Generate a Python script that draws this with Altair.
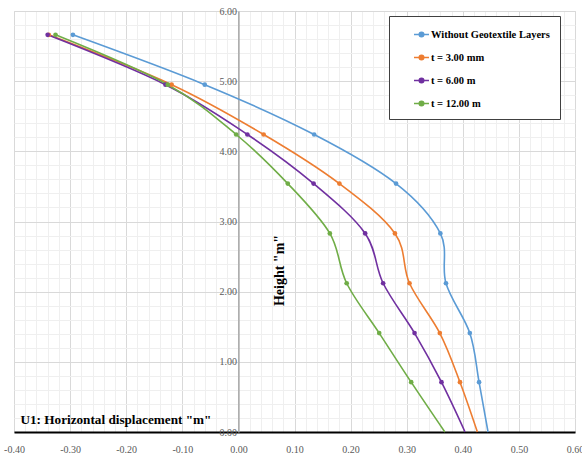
import altair as alt
import pandas as pd

# ---- data ----
series = ["Without Geotextile Layers", "t = 3.00 mm", "t = 6.00 m", "t = 12.00 m"]
colors = ["#5b9bd5", "#ed7d31", "#7030a0", "#70ad47"]
heights = [5.66, 4.95, 4.24, 3.54, 2.83, 2.12, 1.41, 0.71, 0.00]
u_without = [-0.295, -0.060, 0.135, 0.281, 0.360, 0.370, 0.4125, 0.429, 0.445]
u_t3 = [-0.338, -0.119, 0.045, 0.180, 0.279, 0.305, 0.359, 0.395, 0.426]
u_t6 = [-0.340, -0.130, 0.016, 0.134, 0.226, 0.258, 0.314, 0.362, 0.404]
u_t12 = [-0.326, -0.126, -0.004, 0.088, 0.163, 0.193, 0.251, 0.308, 0.368]

# axis ticks (major every 0.1 / 1.0, minor grid every 0.02 / 0.2)
x_ticks = [round(-0.4 + 0.02 * i, 2) for i in range(51)]
y_ticks = [round(0.2 * i, 1) for i in range(31)]

rows = []
for name, vals in zip(series, [u_without, u_t3, u_t6, u_t12]):
    for i, (u, h) in enumerate(zip(vals, heights)):
        rows.append({"series": name, "u": u, "h": h, "idx": i})
df = pd.DataFrame(rows)

W, H = 561, 421
xs = alt.Scale(domain=[-0.4, 0.6], nice=False, zero=False)
ys = alt.Scale(domain=[0, 6], nice=False)
cs = alt.Scale(domain=series, range=colors)

serif = "Liberation Serif"
is_major_x = "abs(datum.value*10 - round(datum.value*10)) < 1e-6"
is_major_y = "abs(datum.value - round(datum.value)) < 1e-6"

x_axis = alt.Axis(
    values=x_ticks,
    labelExpr="(" + is_major_x + ") ? ((datum.value < -1e-9 ? '-' : '') + format(abs(datum.value), '.2f')) : ''",
    title='U1: Horizontal displacement "m"',
    titleFont=serif, titleFontSize=13.2, titleFontWeight="bold", titleColor="#000000",
    titleX=6, titleY=-9, titleAlign="left", titleBaseline="alphabetic", titleAngle=0,
    labelFont=serif, labelFontSize=10, labelColor="#595959", labelPadding=12,
    ticks=False, domainColor="#000000", domainWidth=2,
    grid=True, gridWidth=1, labelFlush=False, labelOverlap=False,
    gridColor={"condition": {"test": is_major_x, "value": "#d9d9d9"}, "value": "#efefef"},
)
y_axis = alt.Axis(
    values=y_ticks,
    labelExpr="(" + is_major_y + ") ? format(datum.value, '.2f') : ''",
    title='Height "m"', offset=-224.4,
    titleFont=serif, titleFontSize=14, titleFontWeight="bold", titleColor="#000000",
    titleX=41, titleY=259, titleAngle=270, titleAlign="center", titleBaseline="middle",
    labelFont=serif, labelFontSize=10, labelColor="#595959", labelPadding=2,
    ticks=False, domainColor="#a6a6a6", domainWidth=1.5,
    grid=True, gridWidth=1, labelFlush=False, labelOverlap=False,
    gridColor={"condition": {"test": is_major_y, "value": "#d9d9d9"}, "value": "#efefef"},
)

legend = alt.Legend(
    title=None, orient="none", legendX=375, legendY=5,
    symbolType="M-1,0L1,0M0.3,0A0.3,0.3,0,1,1,-0.3,0A0.3,0.3,0,1,1,0.3,0Z",
    symbolSize=225, symbolStrokeWidth=1.6, symbolOffset=14,
    labelFont=serif, labelFontSize=10.5, labelFontWeight="bold", labelColor="#000000",
    labelOffset=1, rowPadding=9, padding=10,
    strokeColor="#404040", fillColor="#ffffff", cornerRadius=0, labelLimit=300,
)

lines = alt.Chart(df).mark_line(strokeWidth=1.6, interpolate="cardinal").encode(
    x=alt.X("u:Q", scale=xs, axis=x_axis),
    y=alt.Y("h:Q", scale=ys, axis=y_axis),
    color=alt.Color("series:N", scale=cs, sort=series, legend=legend),
    order=alt.Order("idx:Q"),
)
points = alt.Chart(df).transform_filter("datum.h > 0").mark_point(filled=True, size=22, opacity=1).encode(
    x=alt.X("u:Q", scale=xs, axis=x_axis),
    y=alt.Y("h:Q", scale=ys, axis=y_axis),
    color=alt.Color("series:N", scale=cs, sort=series, legend=None),
)

chart = alt.layer(lines, points).properties(
    width=W, height=H,
    autosize=alt.AutoSizeParams(type="none"),
    padding={"left": 14, "top": 11, "right": 7, "bottom": 21},
    background="#ffffff",
).configure_view(stroke="#d9d9d9", strokeWidth=1)

chart.save("out.html", embed_options={"renderer": "svg", "actions": False})
